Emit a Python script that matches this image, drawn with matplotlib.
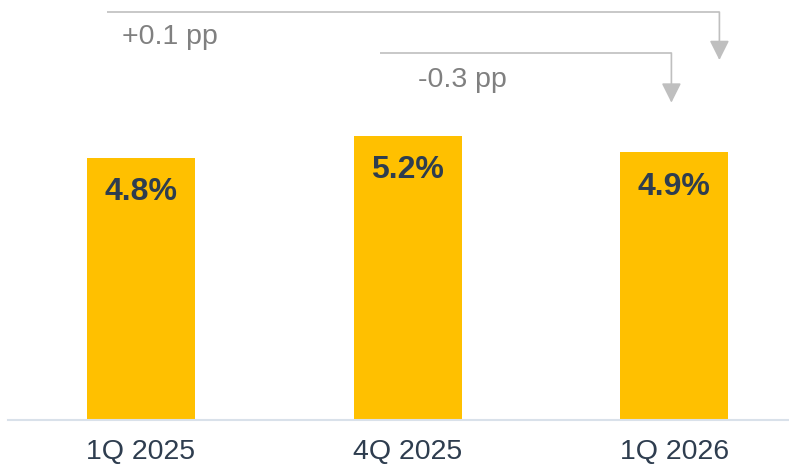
import matplotlib
matplotlib.use("Agg")
import matplotlib.pyplot as plt

plt.rcParams['font.family'] = ['Liberation Sans', 'DejaVu Sans']

# data
quarters = ["1Q 2025", "4Q 2025", "1Q 2026"]
rates = [4.8, 5.2, 4.9]
rate_labels = ["4.8%", "5.2%", "4.9%"]
change_labels = ["+0.1 pp", "-0.3 pp"]

bar_color = "#FFC000"
text_dark = "#2E3D4F"
grey_line = "#BFBFBF"
grey_text = "#808080"

W, H = 789, 467
fig = plt.figure(figsize=(W / 100, H / 100), dpi=100)
# axes: left at 8px, baseline at 420px from top
ax = fig.add_axes([8 / W, 47 / H, 781 / W, 420 / H])

x = list(range(len(quarters)))
ax.bar(x, rates, width=0.405, color=bar_color, zorder=2)
ax.set_xlim(-0.499, 2.43)
ax.set_ylim(0, 7.69)

for xi, v, lab in zip(x, rates, rate_labels):
    ax.text(xi, v - 0.63, lab, ha="center", va="center", fontsize=23,
            fontweight="bold", color=text_dark, zorder=3)

for s in ["left", "right", "top"]:
    ax.spines[s].set_visible(False)
ax.spines["bottom"].set_color("#D9E1EA")
ax.spines["bottom"].set_linewidth(1.5)
ax.set_yticks([])
ax.set_xticks(x)
ax.set_xticklabels(quarters, fontsize=20.5, color=text_dark)
ax.tick_params(axis="x", length=0, pad=14)

# change brackets: (x start, x end, y line, y tip, text x, text y)
brackets = [(-0.128, 2.169, 7.47, 6.59, -0.071, 7.02),
            (0.897, 1.989, 6.72, 5.81, 1.039, 6.23)]
for (x0, x1, yl, yt, tx, ty), lab in zip(brackets, change_labels):
    ax.plot([x0, x1], [yl, yl], color=grey_line, lw=1.2, clip_on=False,
            solid_capstyle="butt")
    ax.annotate("", xy=(x1, yt), xytext=(x1, yl),
                arrowprops=dict(arrowstyle="-|>,head_width=0.5,head_length=1.0",
                                mutation_scale=12, color=grey_line, lw=1.2,
                                shrinkA=0, shrinkB=0),
                annotation_clip=False)
    ax.text(tx, ty, lab, ha="left", va="center", fontsize=20.5, color=grey_text)

fig.savefig("out.png", dpi=100)
